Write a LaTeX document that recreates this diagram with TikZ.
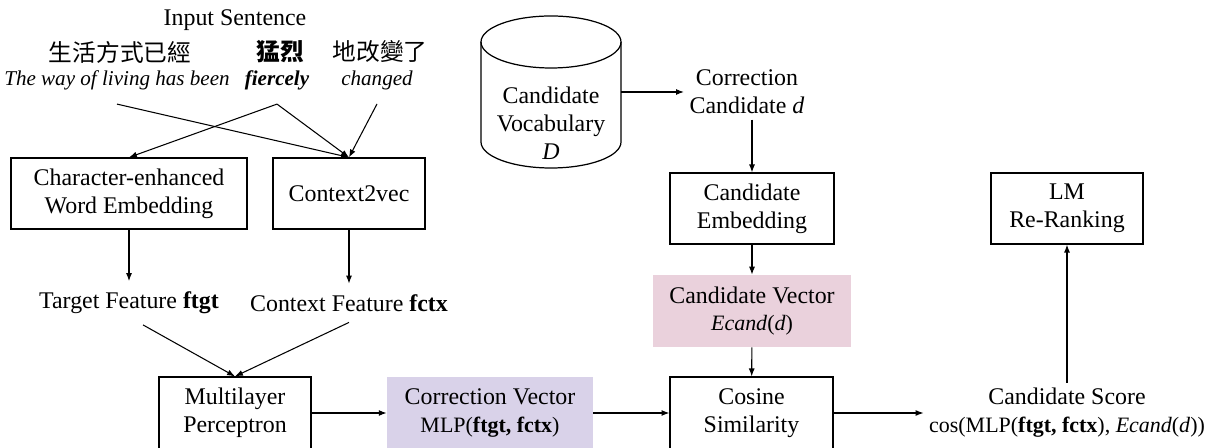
\documentclass[tikz,border=0pt]{standalone}
\usepackage{fontspec}
\setmainfont{Liberation Serif}
\newfontfamily\zhfont{Noto Sans CJK TC}
\usetikzlibrary{arrows.meta,positioning}
\definecolor{Lilac}{HTML}{D9D2E9}
\definecolor{Blush}{HTML}{EAD1DC}
\newcommand{\fml}{\fontsize{12.5}{15.8}\selectfont}
\tikzset{
  >={Latex[length=4.5pt,width=3.4pt]},
  txt/.style={font=\fontsize{13.6}{15.8}\selectfont,align=center,inner sep=3pt},
  feat/.style={txt,inner sep=6pt},
  zh/.style={font=\fontsize{13.5}{16}\selectfont\zhfont,inner sep=1pt},
  en/.style={font=\fontsize{12}{15}\selectfont\itshape,inner sep=1pt},
  block/.style={txt,draw,line width=.7pt,minimum height=1.42cm},
  vecbox/.style={txt,minimum height=1.44cm},
  flow/.style={->,line width=.6pt}
}

\begin{document}
\begin{tikzpicture}[x=0.02cm,y=-0.02cm]
  \useasboundingbox (0,0) rectangle (1212,448);
  % input sentence
  \node[txt] (insent) at (235,20) {Input Sentence};
  \node[zh] (zhA) at (120,52) {生活方式已經};
  \node[zh] (zhB) at (280,52) {\bfseries 猛烈};
  \node[zh] (zhC) at (380,52) {地改變了};
  \node[en] (enA) at (117,80) {The way of living has been};
  \node[en] (enB) at (277,80) {\bfseries fiercely};
  \node[en] (enC) at (377,80) {changed};
  % feature extraction
  \node[block,minimum width=4.72cm] (charemb) at (129,193.5) {Character-enhanced\\Word Embedding};
  \node[block,minimum width=3.04cm] (ctx) at (349,193.5) {Context2vec};
  \node[feat] (tgt) at (129,303) {Target Feature \textbf{ftgt}};
  \node[feat] (ctxf) at (349,303) {Context Feature \textbf{fctx}};
  \node[block,minimum width=3.04cm,minimum height=1.44cm] (mlp) at (235,413) {Multilayer\\Perceptron};
  \node[vecbox,fill=Lilac,minimum width=4.12cm] (corvec) at (490,413) {Correction Vector\\{\fml MLP(\textbf{ftgt, fctx})}};
  % candidate side
  \node[txt] (vocab) at (551,123) {Candidate\\Vocabulary\\\textit{D}};
  \draw[line width=.7pt] (481,42) -- (481,142) arc[start angle=180,end angle=0,x radius=70,y radius=26] -- (621,42);
  \draw[line width=.7pt] (551,42) ellipse[x radius=70,y radius=26];
  \coordinate (vocabside) at (621,92);
  \node[txt] (corcand) at (747,92) {Correction\\Candidate \textit{d}};
  \node[block,minimum width=3.28cm] (candemb) at (752,208.5) {Candidate\\Embedding};
  \node[vecbox,fill=Blush,minimum width=3.96cm] (candvec) at (752,311) {Candidate Vector\\{\fml\textit{Ecand}(\textit{d})}};
  \node[block,minimum width=3.26cm,minimum height=1.44cm] (cosine) at (751.5,413) {Cosine\\Similarity};
  \node[txt] (score) at (1067,413) {Candidate Score\\{\fml cos(MLP(\textbf{ftgt, fctx}), \textit{Ecand}(\textit{d}))}};
  \node[block,minimum width=3.04cm] (lm) at (1067,208.5) {LM\\Re-Ranking};
  % connectors
  \draw[flow] ([yshift=-7pt]enA.south) -- (ctx.north);
  \draw[flow] ([yshift=-7pt]enB.south) -- (charemb.north);
  \draw[flow] ([yshift=-7pt]enB.south) -- (ctx.north);
  \draw[flow] ([yshift=-7pt]enC.south) -- (ctx.north);
  \draw[flow] (charemb) -- (tgt);
  \draw[flow] (ctx) -- (ctxf);
  \draw[flow] ([xshift=8pt]tgt.south) -- (mlp.north);
  \draw[flow] (ctxf.south) -- (mlp.north);
  \draw[flow] (mlp) -- (corvec);
  \draw[flow] (corvec) -- (cosine);
  \draw[flow] (vocabside) -- (corcand);
  \draw[flow] (corcand.south -| candemb.north) -- (candemb);
  \draw[flow] (candemb) -- (candvec);
  \draw[flow] (candvec) -- (cosine);
  \draw[flow] (cosine) -- (score);
  \draw[flow] (score.north) -- (lm.south);
\end{tikzpicture}
\end{document}
